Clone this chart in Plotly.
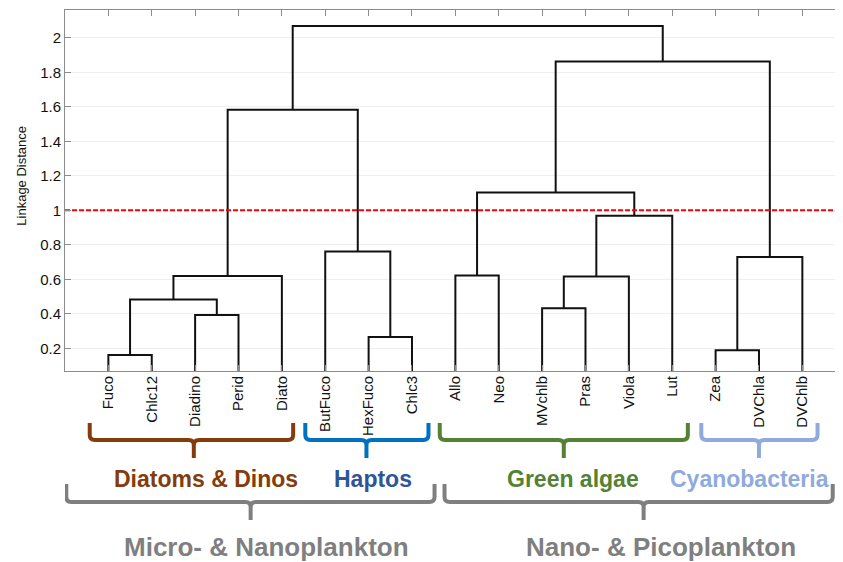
import plotly.graph_objects as go

# ---------------- data ----------------
leaves = ["Fuco", "Chlc12", "Diadino", "Perid", "Diato", "ButFuco", "HexFuco", "Chlc3",
          "Allo", "Neo", "MVchlb", "Pras", "Viola", "Lut", "Zea", "DVChla", "DVChlb"]

# merges: (left child, right child, linkage distance); children are leaf names or cluster ids
# "C#" where C1 is the first merge, C2 the second, ...
merge_left = ["Fuco", "Diadino", "C1", "C3", "HexFuco", "ButFuco", "C4", "Zea", "MVchlb",
              "Allo", "C9", "C11", "C10", "C8", "C13", "C7"]
merge_right = ["Chlc12", "Perid", "C2", "Diato", "Chlc3", "C5", "C6", "DVChla", "Pras",
               "Neo", "Viola", "Lut", "C12", "DVChlb", "C14", "C15"]
merge_height = [0.161, 0.393, 0.484, 0.619, 0.266, 0.762, 1.583, 0.189, 0.433,
                0.623, 0.617, 0.968, 1.103, 0.729, 1.863, 2.069]
cut_level = 1.0

ytick_vals = [0.2, 0.4, 0.6, 0.8, 1.0, 1.2, 1.4, 1.6, 1.8, 2.0]
ytick_text = ["0.2", "0.4", "0.6", "0.8", "1", "1.2", "1.4", "1.6", "1.8", "2"]

groups = ["Diatoms & Dinos", "Haptos", "Green algae", "Cyanobacteria"]
group_left = [0.57, 5.54, 8.64, 14.67]
group_right = [5.26, 8.38, 14.36, 17.35]
group_tip = [2.97, 6.95, 11.5, 16.0]
group_colors = ["#843C0C", "#0070C0", "#548235", "#8FAADC"]
group_text_colors = ["#843C0C", "#2F5597", "#548235", "#8FAADC"]
group_text_x = [3.24, 7.10, 11.72, 15.78]

sizes = ["Micro- & Nanoplankton", "Nano- & Picoplankton"]
size_left = [0.03, 8.75]
size_right = [8.52, 17.7]
size_tip = [4.28, 13.34]
size_text_x = [4.64, 13.73]

# ---------------- geometry helpers ----------------
# the page body adds an 8px offset, so the figure is 8px smaller and starts at (8, 8)
OFF = 8
W, H = 843 - OFF, 562 - OFF
L, T, B, R = 65 - OFF, 10 - OFF, 191, 0
plot_h = H - T - B
plot_w = W - L - R


def py(Y):
    # Y in window pixels (reference picture)
    return (371 - Y) / plot_h


pos = {name: (i + 1, 0.0) for i, name in enumerate(leaves)}
xs, ys = [], []
for k, (a, b, h) in enumerate(zip(merge_left, merge_right, merge_height)):
    xa, ha = pos[a]
    xb, hb = pos[b]
    xs += [xa, xa, xb, xb, None]
    ys += [ha, h, h, hb, None]
    pos["C%d" % (k + 1)] = ((xa + xb) / 2, h)

fig = go.Figure()
fig.add_trace(go.Scatter(x=xs, y=ys, mode="lines",
                         line=dict(color="#111111", width=2), hoverinfo="skip",
                         showlegend=False))
fig.add_trace(go.Scatter(x=[0, 18], y=[cut_level, cut_level], mode="lines",
                         line=dict(color="#FF0000", width=2, dash="5px,2px"),
                         hoverinfo="skip", showlegend=False))


def brace(xl, xr, xt, ytop, yh, ytip, color, width):
    rx = 0.12
    ry = 5 / plot_h
    p = (f"M {xl},{ytop} L {xl},{yh + ry} Q {xl},{yh} {xl + rx},{yh} "
         f"L {xt - rx},{yh} Q {xt},{yh} {xt},{yh - ry} L {xt},{ytip} "
         f"M {xt},{yh - ry} Q {xt},{yh} {xt + rx},{yh} "
         f"L {xr - rx},{yh} Q {xr},{yh} {xr},{yh + ry} L {xr},{ytop}")
    return dict(type="path", xref="x", yref="paper", path=p,
                line=dict(color=color, width=width), layer="above")


shapes = []
for xl, xr, xt, c in zip(group_left, group_right, group_tip, group_colors):
    shapes.append(brace(xl, xr, xt, py(423), py(440), py(458), c, 4))
for xl, xr, xt in zip(size_left, size_right, size_tip):
    shapes.append(brace(xl, xr, xt, py(484), py(502), py(520), "#7F7F7F", 4))

annotations = []
for g, x, c in zip(groups, group_text_x, group_text_colors):
    annotations.append(dict(text="<b>%s</b>" % g, x=x, xref="x", y=py(479), yref="paper",
                            showarrow=False, xanchor="center", yanchor="middle",
                            font=dict(family="Liberation Sans, Arial", size=23, color=c)))
for s, x in zip(sizes, size_text_x):
    annotations.append(dict(text="<b>%s</b>" % s, x=x, xref="x", y=py(547), yref="paper",
                            showarrow=False, xanchor="center", yanchor="middle",
                            font=dict(family="Liberation Sans, Arial", size=26, color="#7F7F7F")))
annotations.append(dict(text="Linkage Distance", x=(20.7 - 65) / plot_w, xref="paper",
                        y=py(176), yref="paper", textangle=-90, showarrow=False,
                        xanchor="center", yanchor="middle",
                        font=dict(family="Liberation Sans, Arial", size=13, color="#111111")))

fig.update_layout(
    width=W, height=H, margin=dict(l=L, r=R, t=T, b=B),
    paper_bgcolor="white", plot_bgcolor="white",
    shapes=shapes, annotations=annotations,
    xaxis=dict(range=[0, 17.937], tickvals=list(range(1, len(leaves) + 1)), ticktext=leaves,
               tickangle=-90, ticks="inside", ticklen=6, tickcolor="#8C8C8C",
               showline=True, linecolor="#8C8C8C", linewidth=1, mirror="allticks",
               showgrid=False, zeroline=False, ticklabelstandoff=-2,
               tickfont=dict(family="Liberation Sans, Arial", size=15, color="#111111")),
    yaxis=dict(range=[0.069, 2.161], tickvals=ytick_vals, ticktext=ytick_text,
               ticks="inside", ticklen=6, tickcolor="#8C8C8C",
               showline=True, linecolor="#8C8C8C", linewidth=1, mirror="allticks",
               showgrid=True, gridcolor="#EFEFEF", gridwidth=1, zeroline=False,
               tickfont=dict(family="Liberation Sans, Arial", size=15, color="#111111")),
)

fig.write_html("out.html")
